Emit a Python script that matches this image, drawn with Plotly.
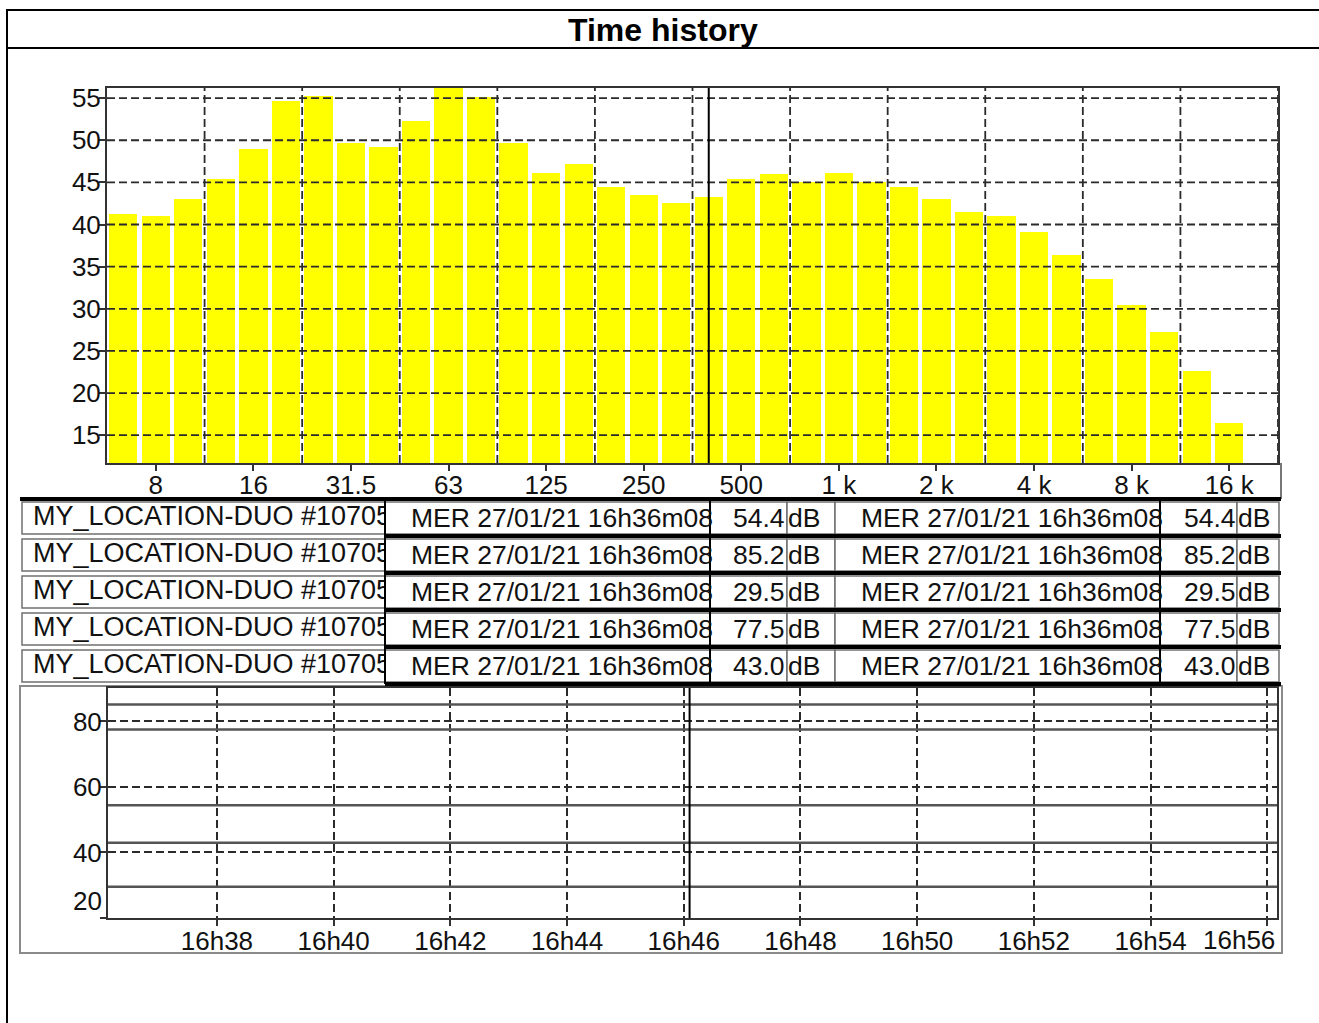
import plotly.graph_objects as go

# ---------------- data ----------------
bands = ["6.3", "8", "10", "12.5", "16", "20", "25", "31.5", "40", "50", "63", "80",
         "100", "125", "160", "200", "250", "315", "400", "500", "630", "800",
         "1 k", "1.25 k", "1.6 k", "2 k", "2.5 k", "3.15 k", "4 k", "5 k", "6.3 k",
         "8 k", "10 k", "12.5 k", "16 k"]
levels = [41.3, 41.0, 43.0, 45.4, 49.0, 54.6, 55.2, 49.7, 49.2, 52.3, 56.3, 55.1,
          49.7, 46.1, 47.2, 44.4, 43.5, 42.6, 43.3, 45.4, 46.0, 45.0, 46.1, 45.0,
          44.4, 43.0, 41.5, 41.0, 39.1, 36.4, 33.5, 30.5, 27.2, 22.6, 16.4]
band_tick_labels = ["8", "16", "31.5", "63", "125", "250", "500", "1 k", "2 k", "4 k", "8 k", "16 k"]
level_ticks = [15, 20, 25, 30, 35, 40, 45, 50, 55]
cursor_band = "400"

row_names = ["MY_LOCATION-DUO #10705"] * 5
row_dates = ["MER 27/01/21 16h36m08"] * 5
row_values = [54.4, 85.2, 29.5, 77.5, 43.0]
row_unit = "dB"

time_range = ["2021-01-27 16:36:08", "2021-01-27 16:56:10"]
time_ticks = ["2021-01-27 16:38", "2021-01-27 16:40", "2021-01-27 16:42", "2021-01-27 16:44",
              "2021-01-27 16:46", "2021-01-27 16:48", "2021-01-27 16:50", "2021-01-27 16:52",
              "2021-01-27 16:54", "2021-01-27 16:56"]
time_tick_labels = ["16h38", "16h40", "16h42", "16h44", "16h46", "16h48", "16h50", "16h52",
                    "16h54", "16h56"]
time_level_ticks = [20, 40, 60, 80]
cursor_time = "2021-01-27 16:46:06"

# ---------------- helpers ----------------
W, H = 1319, 1023
FONT = "Liberation Sans, Arial, sans-serif"
TXT = "#111111"
GRID = "#2a2a2a"
TFS = 26.5   # table font size
AFS = 26     # axis font size


def px(x):
    return x / W


def py(y):
    return 1 - y / H


idx = list(range(len(bands)))
band_tickvals = [bands.index(b) for b in band_tick_labels]
band_grid = [v + 1.5 for v in band_tickvals]

fig = go.Figure()

# spectrum bars
fig.add_trace(go.Bar(x=idx, y=levels, width=0.87, marker=dict(color="#FFFF00", line=dict(width=0)),
                     xaxis="x", yaxis="y", hoverinfo="skip"))

# time-history level lines
for v in row_values:
    fig.add_trace(go.Scatter(x=time_range, y=[v, v], mode="lines",
                             line=dict(color="#555555", width=2.5),
                             xaxis="x2", yaxis="y2", hoverinfo="skip"))

# row top positions of the table (layout)
row_tops = [502 + 37 * i for i in range(len(row_names))]
row_h = 32
row_centers = [t + row_h / 2 for t in row_tops]

# first column text (clipped to its cell)
fig.add_trace(go.Scatter(x=[33] * len(row_names), y=row_centers, text=row_names, mode="text",
                         textposition="middle right", cliponaxis=True,
                         textfont=dict(size=27, color=TXT, family=FONT),
                         xaxis="x3", yaxis="y3", hoverinfo="skip"))

shapes = []
annotations = []

# outer frame
shapes += [
    dict(type="line", xref="paper", yref="paper", x0=px(6), x1=1, y0=py(10), y1=py(10),
         line=dict(color="black", width=2)),
    dict(type="line", xref="paper", yref="paper", x0=px(6), x1=1, y0=py(48), y1=py(48),
         line=dict(color="black", width=2)),
    dict(type="line", xref="paper", yref="paper", x0=px(7), x1=px(7), y0=py(10), y1=0,
         line=dict(color="black", width=2)),
]
annotations.append(dict(text="<b>Time history</b>", xref="paper", yref="paper", x=px(663), y=py(30),
                        xanchor="center", yanchor="middle",
                        showarrow=False, font=dict(size=32, family=FONT, color="black")))

# lower panel (table + time history)
shapes.append(dict(type="rect", xref="paper", yref="paper", x0=px(20), x1=px(1282), y0=py(953), y1=py(686),
                   line=dict(color="#8a8a8a", width=2), fillcolor="white", layer="below"))
shapes.append(dict(type="line", xref="paper", yref="paper", x0=px(1281), x1=px(1281), y0=py(463), y1=py(499),
                   line=dict(color="#777777", width=2)))

# table cells
col_edges = [22, 385, 710, 787, 835, 1160, 1237, 1279]
for t in row_tops:
    for c in range(len(col_edges) - 1):
        shapes.append(dict(type="rect", xref="paper", yref="paper",
                           x0=px(col_edges[c]), x1=px(col_edges[c + 1]), y0=py(t + row_h), y1=py(t),
                           line=dict(color="#707070", width=1.5), fillcolor="white", layer="below"))
# thick black bands between rows
band_ys = [t - 3 for t in row_tops] + [row_tops[-1] + row_h + 2]
for i, yb in enumerate(band_ys):
    x_start = 20 if i == 0 else 385
    shapes.append(dict(type="line", xref="paper", yref="paper", x0=px(x_start), x1=px(1281),
                       y0=py(yb), y1=py(yb), line=dict(color="black", width=4)))
for xe in [385, 710, 1160]:
    shapes.append(dict(type="line", xref="paper", yref="paper", x0=px(xe), x1=px(xe),
                       y0=py(row_tops[-1] + row_h + 2), y1=py(row_tops[0] - 3),
                       line=dict(color="black", width=2)))

for yc, d, v in zip(row_centers, row_dates, row_values):
    common = dict(xref="paper", yref="paper", y=py(yc), yanchor="middle", showarrow=False,
                  font=dict(size=TFS, family=FONT, color=TXT))
    annotations.append(dict(text=d, x=px(409), xanchor="left", **common))
    annotations.append(dict(text=f"{v:.1f}", x=px(787), xanchor="right", **common))
    annotations.append(dict(text=row_unit, x=px(786), xanchor="left", **common))
    annotations.append(dict(text=d, x=px(859), xanchor="left", **common))
    annotations.append(dict(text=f"{v:.1f}", x=px(1238), xanchor="right", **common))
    annotations.append(dict(text=row_unit, x=px(1236), xanchor="left", **common))

# spectrum grid drawn above the bars
dash = "8px,4px"
for yv in level_ticks:
    shapes.append(dict(type="line", xref="x domain", yref="y", x0=0, x1=1, y0=yv, y1=yv,
                       line=dict(color=GRID, width=1.8, dash=dash), layer="above"))
for xv in band_grid:
    shapes.append(dict(type="line", xref="x", yref="y domain", x0=xv, x1=xv, y0=0, y1=1,
                       line=dict(color=GRID, width=1.8, dash=dash), layer="above"))
shapes.append(dict(type="line", xref="x", yref="y domain", x0=bands.index(cursor_band),
                   x1=bands.index(cursor_band), y0=0, y1=1, line=dict(color="black", width=2)))

# time-history cursor
shapes.append(dict(type="line", xref="x2", yref="y2 domain", x0=cursor_time, x1=cursor_time, y0=0, y1=1,
                   line=dict(color="black", width=2)))

# special tick labels in time history
annotations.append(dict(text=str(time_level_ticks[0]), xref="paper", yref="y2", x=px(104), y=time_level_ticks[0],
                        xanchor="right", yanchor="bottom", showarrow=False,
                        font=dict(size=AFS, family=FONT, color=TXT)))
annotations.append(dict(text=time_tick_labels[-1], xref="paper", yref="paper", x=px(1277), y=py(940),
                        xanchor="right", yanchor="middle", showarrow=False,
                        font=dict(size=AFS, family=FONT, color=TXT)))

tickfont = dict(size=AFS, family=FONT, color=TXT)
common_axis = dict(ticks="outside", ticklen=6, tickcolor="#333", tickwidth=1.5,
                   zeroline=False, showline=True, mirror=True, automargin=False,
                   linecolor="#333", linewidth=2, tickfont=tickfont, fixedrange=True)

fig.update_layout(
    width=W, height=H, autosize=False,
    margin=dict(l=0, r=0, t=0, b=0, pad=0),
    paper_bgcolor="white", plot_bgcolor="rgba(0,0,0,0)",
    showlegend=False, bargap=0,
    shapes=shapes, annotations=annotations,
    xaxis=dict(domain=[px(107), px(1278)], range=[-0.5, 35.5], anchor="y",
               tickmode="array", tickvals=band_tickvals, ticktext=band_tick_labels,
               showgrid=False, ticklabelstandoff=-8, **common_axis),
    yaxis=dict(domain=[py(463), py(88)], range=[11.7, 56.2], anchor="x",
               tickmode="array", tickvals=level_ticks,
               showgrid=False, ticklabelstandoff=-7, **common_axis),
    xaxis2=dict(domain=[px(108), px(1277)], range=time_range, type="date", anchor="y2",
                tickmode="array", tickvals=time_ticks, ticktext=time_tick_labels[:-1] + [""],
                showgrid=True, gridcolor=GRID, gridwidth=1.8, griddash=dash,
                ticklabelstandoff=-7, **common_axis),
    yaxis2=dict(domain=[py(918), py(688)], range=[20, 90.2], anchor="x2",
                tickmode="array", tickvals=time_level_ticks,
                ticktext=[""] + [str(v) for v in time_level_ticks[1:]],
                showgrid=True, gridcolor=GRID, gridwidth=1.8, griddash=dash,
                ticklabelstandoff=-7, **common_axis),
    xaxis3=dict(domain=[px(22), px(385)], range=[22, 385], visible=False, anchor="y3",
                fixedrange=True, automargin=False),
    yaxis3=dict(domain=[py(row_tops[-1] + row_h), py(row_tops[0])],
                range=[row_tops[-1] + row_h, row_tops[0]], visible=False, anchor="x3",
                fixedrange=True, automargin=False),
)

fig.write_html("out.html", config={"displayModeBar": False},
               post_script="document.body.style.margin='0';document.body.style.overflow='hidden';")
